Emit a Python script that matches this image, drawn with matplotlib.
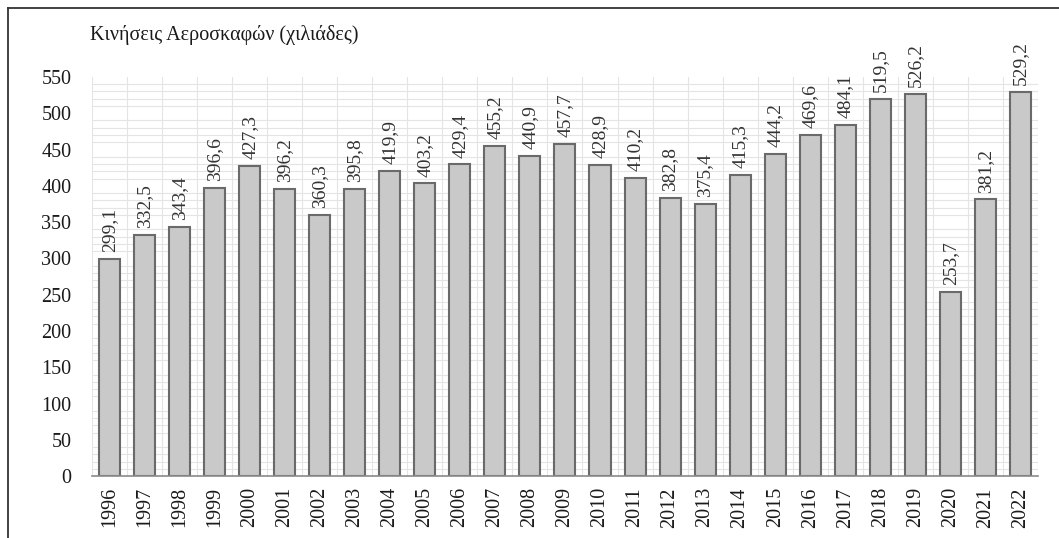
import matplotlib
matplotlib.use("Agg")
import matplotlib.pyplot as plt
from matplotlib.lines import Line2D
import numpy as np

plt.rcParams['font.family'] = ['Liberation Serif', 'DejaVu Serif']

years = [str(y) for y in range(1996, 2023)]
movements = [299.1, 332.5, 343.4, 396.6, 427.3, 396.2, 360.3, 395.8, 419.9,
             403.2, 429.4, 455.2, 440.9, 457.7, 428.9, 410.2, 382.8, 375.4,
             415.3, 444.2, 469.6, 484.1, 519.5, 526.2, 253.7, 381.2, 529.2]
y_ticks = list(range(0, 551, 50))
title = "Κινήσεις Αεροσκαφών (χιλιάδες)"

fig = plt.figure(figsize=(10.59, 5.38), dpi=100)
ax = fig.add_axes([0.087, 0.115, 0.893, 0.742])

x = np.arange(len(years))
ax.bar(x, movements, width=0.6, color='#c9c9c9', edgecolor='#6a6a6a',
       linewidth=1.5, zorder=3)

# value labels above each bar, decimal comma
for xi, v in zip(x, movements):
    ax.annotate(f"{v:.1f}".replace('.', ','), (xi, v), xytext=(0, 5),
                textcoords='offset points', rotation=90, ha='center',
                va='bottom', fontsize=14, color='#333333', zorder=4)

ax.set_xlim(-0.5, len(years) - 0.5)
ax.set_ylim(0, 550)
ax.set_yticks(y_ticks)
ax.set_yticklabels([str(t) for t in y_ticks], fontsize=14.5)
ax.set_xticks(x)
ax.set_xticklabels(years, rotation=90, fontsize=14.5)
ax.tick_params(axis='both', length=0, colors='#1a1a1a')
ax.tick_params(axis='x', pad=8)
ax.tick_params(axis='y', pad=15)

# fine background grid
ax.set_yticks(np.arange(0, 551, 10), minor=True)
ax.set_xticks(np.arange(-0.5, len(years), 0.5), minor=True)
ax.tick_params(which='minor', length=0)
ax.grid(which='minor', color='#e4e4e4', linewidth=0.8, zorder=0)
ax.grid(which='major', visible=False)

for side in ['left', 'right', 'top']:
    ax.spines[side].set_visible(False)
ax.spines['bottom'].set_color('#8a8a8a')
ax.spines['bottom'].set_linewidth(1.2)
ax.spines['bottom'].set_zorder(5)

fig.text(0.085, 0.935, title, fontsize=14.5, ha='left', va='center',
         color='#1a1a1a')

# outer frame (top and left edges)
fig.add_artist(Line2D([0.0076, 0.0076], [0.0, 0.985], color='#333333',
                      linewidth=1.3, transform=fig.transFigure))
fig.add_artist(Line2D([0.0076, 1.0], [0.985, 0.985], color='#333333',
                      linewidth=1.3, transform=fig.transFigure))

fig.savefig("out.png", dpi=100)
